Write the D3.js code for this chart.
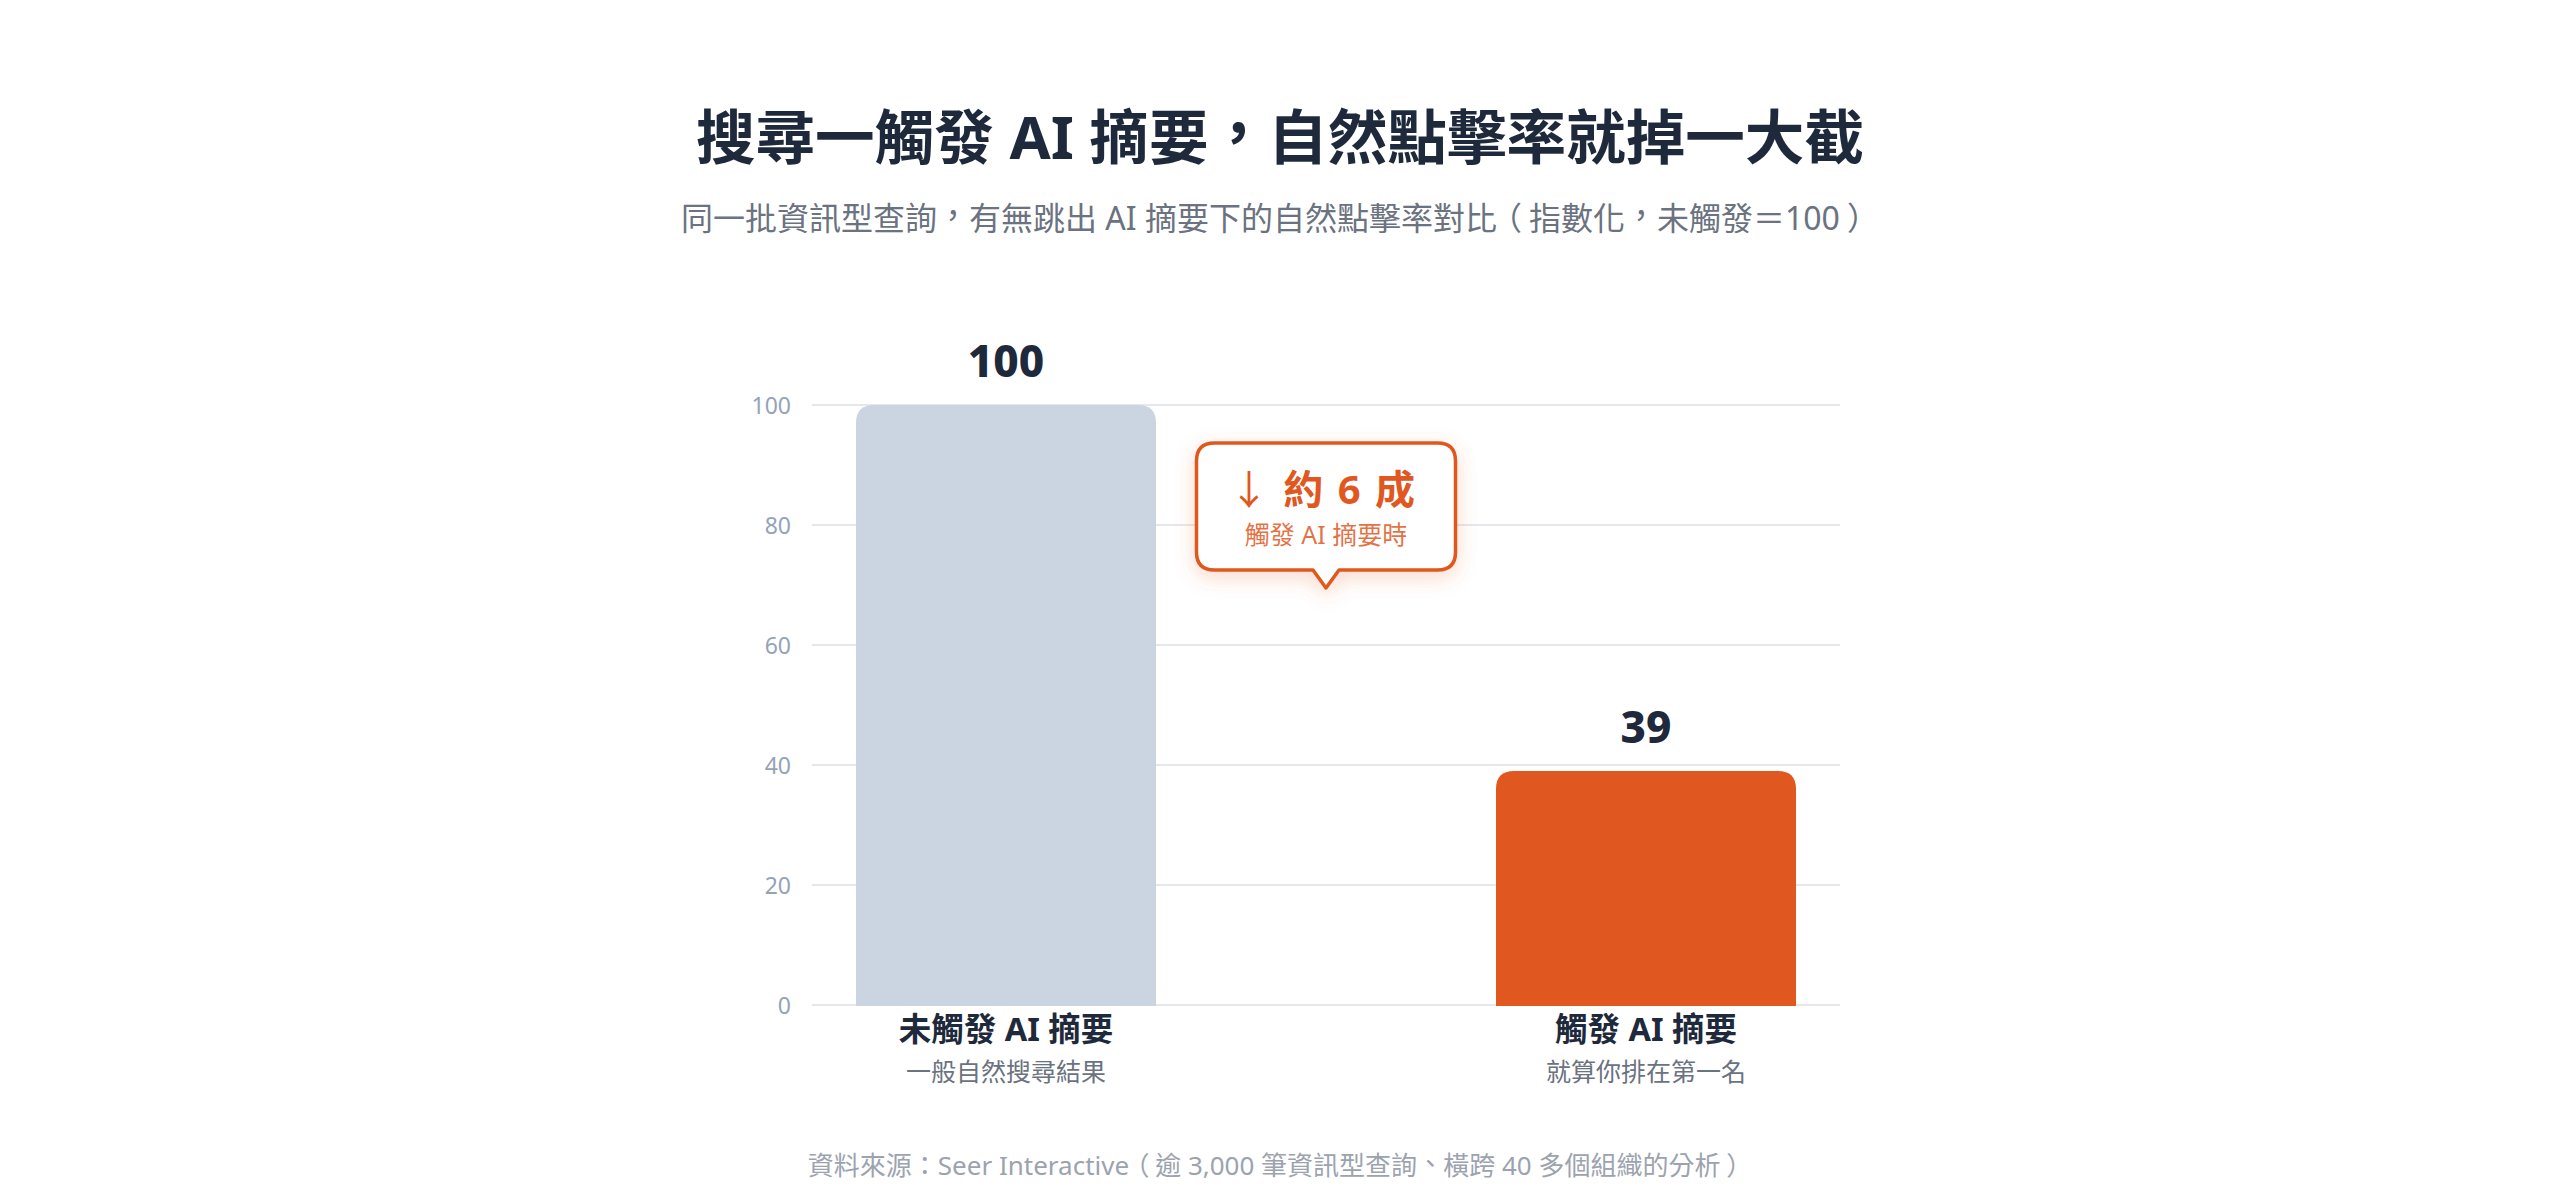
<!DOCTYPE html>
<html lang="zh-TW">
<head>
<meta charset="utf-8">
<script src="https://cdn.jsdelivr.net/npm/d3@7"></script>
<style>
  html, body { margin: 0; padding: 0; background: #ffffff; }
  svg { display: block; }
</style>
</head>
<body>
<svg id="chart" width="2560" height="1204" lang="zh-TW" xml:lang="zh-TW"></svg>
<script>
// ---- data ----
const categories = ["未觸發 AI 摘要", "觸發 AI 摘要"];
const subLabels = ["一般自然搜尋結果", "就算你排在第一名"];
const values = [100, 39];
const barColors = ["#CBD5E1", "#E0581F"];
const yTicks = [0, 20, 40, 60, 80, 100];
const titleText = "搜尋一觸發 AI 摘要，自然點擊率就掉一大截";
const subtitleText = "同一批資訊型查詢，有無跳出 AI 摘要下的自然點擊率對比（指數化，未觸發＝100）";
const sourceText = "資料來源：Seer Interactive（逾 3,000 筆資訊型查詢、橫跨 40 多個組織的分析）";
const calloutArrow = "↓";
const calloutMain = " 約 6 成";
const calloutSub = "觸發 AI 摘要時";

// ---- layout ----
const W = 2560;
const svg = d3.select("#chart");
const FONT = "'Noto Sans', 'Noto Sans CJK TC', sans-serif";
const orange = "#E0581F";

// Taiwan-style (centred) full-width punctuation placement
const punctShift = {
  "，": [0, -0.08],
  "、": [0, -0.08],
  "（": [-0.22, 0],
  "）": [0.22, 0]
};
function setText(sel, str) {
  let buf = "";
  let pend = null;
  const flush = () => {
    if (!buf) return;
    const t = sel.append("tspan").text(buf);
    if (pend) { t.attr("dx", (-pend[0]) + "em").attr("dy", (-pend[1]) + "em"); pend = null; }
    buf = "";
  };
  for (const ch of str) {
    const s = punctShift[ch];
    if (s) {
      flush();
      const t = sel.append("tspan").text(ch);
      const dx = s[0] - (pend ? pend[0] : 0);
      const dy = s[1] - (pend ? pend[1] : 0);
      t.attr("dx", dx + "em").attr("dy", dy + "em");
      pend = s;
    } else {
      buf += ch;
    }
  }
  flush();
  return sel;
}

const x = d3.scaleBand()
  .domain(categories)
  .range([812, 1840])
  .paddingInner(0.53125)
  .paddingOuter(0.06875);

const y = d3.scaleLinear().domain([0, 100]).range([1005, 405]);

// defs: shadow for callout
const defs = svg.append("defs");
const f = defs.append("filter").attr("id", "glow")
  .attr("x", "-30%").attr("y", "-30%").attr("width", "160%").attr("height", "170%");
f.append("feDropShadow").attr("dx", 0).attr("dy", 6).attr("stdDeviation", 10)
  .attr("flood-color", orange).attr("flood-opacity", 0.22);

// title & subtitle
setText(svg.append("text").attr("x", W / 2).attr("y", 159)
  .attr("text-anchor", "middle").style("font-family", FONT)
  .attr("font-size", 59.6).attr("font-weight", 700).attr("fill", "#1E293B"), titleText);

setText(svg.append("text").attr("x", W / 2).attr("y", 230)
  .attr("text-anchor", "middle").style("font-family", FONT)
  .attr("font-size", 32).attr("font-weight", 400).attr("fill", "#6B7280"), subtitleText);

// gridlines
const grid = svg.append("g");
grid.selectAll("line").data(yTicks).join("line")
  .attr("x1", 812).attr("x2", 1840)
  .attr("y1", d => y(d)).attr("y2", d => y(d))
  .attr("stroke", "#E5E7EB").attr("stroke-width", 2);

// y axis labels
const yAxis = d3.axisLeft(y).tickValues(yTicks).tickSize(0).tickPadding(0);
const yg = svg.append("g").attr("transform", "translate(791,0)").call(yAxis);
yg.select(".domain").remove();
yg.selectAll("text")
  .style("font-family", FONT).attr("font-size", 23).attr("fill", "#94A3B8")
  .attr("dy", "0.38em");

// bars with rounded top corners
function topRounded(x0, y0, w, h, r) {
  r = Math.min(r, h, w / 2);
  return `M${x0},${y0 + h}V${y0 + r}Q${x0},${y0} ${x0 + r},${y0}` +
         `H${x0 + w - r}Q${x0 + w},${y0} ${x0 + w},${y0 + r}V${y0 + h}Z`;
}
const data = categories.map((c, i) => ({ c, v: values[i], sub: subLabels[i], color: barColors[i] }));

svg.append("g").selectAll("path").data(data).join("path")
  .attr("d", d => topRounded(x(d.c), y(d.v), x.bandwidth(), y(0) - y(d.v) + 1, 18))
  .attr("fill", d => d.color);

// value labels
svg.append("g").selectAll("text").data(data).join("text")
  .attr("x", d => x(d.c) + x.bandwidth() / 2)
  .attr("y", d => y(d.v) - 28)
  .attr("text-anchor", "middle").style("font-family", FONT)
  .attr("font-size", 44).attr("font-weight", 800).attr("fill", "#1E293B")
  .text(d => d.v);

// category labels
svg.append("g").selectAll("text").data(data).join("text")
  .attr("x", d => x(d.c) + x.bandwidth() / 2)
  .attr("y", 1041)
  .attr("text-anchor", "middle").style("font-family", FONT)
  .attr("font-size", 32.5).attr("font-weight", 700).attr("fill", "#1E293B")
  .text(d => d.c);

svg.append("g").selectAll("text").data(data).join("text")
  .attr("x", d => x(d.c) + x.bandwidth() / 2)
  .attr("y", 1081)
  .attr("text-anchor", "middle").style("font-family", FONT)
  .attr("font-size", 25).attr("font-weight", 400).attr("fill", "#6B7280")
  .text(d => d.sub);

// callout between bars
const cx = (x(categories[0]) + x(categories[1]) + x.bandwidth()) / 2;
const tipY = y((values[0] + values[1]) / 2);
const bw = 259, bh = 127, ph = 18, pw = 26, r = 18;
const bx = cx - bw / 2, by = tipY - ph - bh;
const callout = svg.append("g").attr("filter", "url(#glow)");
const p = d3.path();
p.moveTo(bx + r, by);
p.lineTo(bx + bw - r, by);
p.quadraticCurveTo(bx + bw, by, bx + bw, by + r);
p.lineTo(bx + bw, by + bh - r);
p.quadraticCurveTo(bx + bw, by + bh, bx + bw - r, by + bh);
p.lineTo(cx + pw / 2, by + bh);
p.lineTo(cx, tipY);
p.lineTo(cx - pw / 2, by + bh);
p.lineTo(bx + r, by + bh);
p.quadraticCurveTo(bx, by + bh, bx, by + bh - r);
p.lineTo(bx, by + r);
p.quadraticCurveTo(bx, by, bx + r, by);
p.closePath();
callout.append("path").attr("d", p.toString())
  .attr("fill", "#FFFFFF").attr("stroke", orange).attr("stroke-width", 3.5)
  .attr("stroke-linejoin", "round");

const cm = svg.append("text").attr("x", cx - 3).attr("y", by + 61)
  .attr("text-anchor", "middle").style("font-family", FONT)
  .attr("font-size", 40).attr("font-weight", 700).attr("fill", orange)
  .attr("letter-spacing", 2);
cm.append("tspan").attr("font-weight", 400).text(calloutArrow);
cm.append("tspan").text(calloutMain);

svg.append("text").attr("x", cx).attr("y", by + 101)
  .attr("text-anchor", "middle").style("font-family", FONT)
  .attr("font-size", 25).attr("font-weight", 400).attr("fill", orange)
  .attr("fill-opacity", 0.85)
  .text(calloutSub);

// source
setText(svg.append("text").attr("x", W / 2).attr("y", 1175)
  .attr("text-anchor", "middle").style("font-family", FONT)
  .attr("font-size", 26).attr("font-weight", 400).attr("fill", "#9CA3AF"), sourceText);
</script>
</body>
</html>
